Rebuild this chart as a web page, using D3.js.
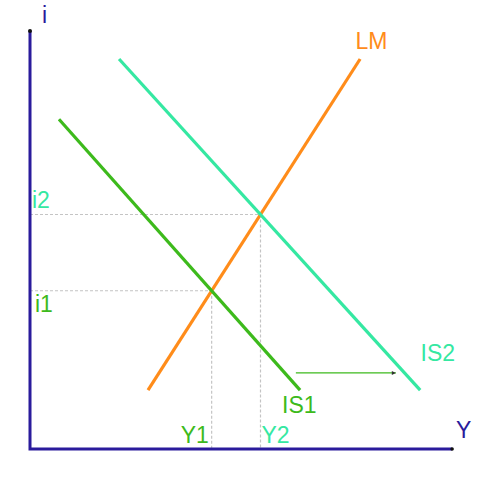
<!DOCTYPE html>
<meta charset="utf-8">
<style>
body { margin: 0; background: #fff; }
.label { font: 23px "Liberation Sans", Arial, sans-serif; }
</style>
<svg width="480" height="480"></svg>
<script src="https://d3js.org/d3.v7.min.js"></script>
<script>

// curves as pairs of end points, in chart units (0..100 on both axes)
var lmCurve = [[28.1, 14.1], [78.6, 93.3]],
    is1Curve = [[6.9, 78.9], [64.3, 14.1]],
    is2Curve = [[21.2, 93.3], [92.9, 14.1]];

var shiftArrow = [[63.3, 18.2], [87.1, 18.2]];

var curveNames = ["LM", "IS1", "IS2"],
    curveLabelPos = [[77.5, 95.8], [60, 8.5], [93, 21]];

var eqLabels = [["i1", "Y1"], ["i2", "Y2"]];

var svg = d3.select("svg");

var x = d3.scaleLinear().domain([0, 100]).range([30, 450]),
    y = d3.scaleLinear().domain([0, 100]).range([449, 31]);

var colors = {
  axis: "#2a1b9c",
  lm: "#ff8c1a",
  is1: "#3dba1c",
  is2: "#35e8a2"
};

var line = d3.line()
    .x(function(d) { return x(d[0]); })
    .y(function(d) { return y(d[1]); });

function intersect(a, b) {
  var m1 = (a[1][1] - a[0][1]) / (a[1][0] - a[0][0]),
      m2 = (b[1][1] - b[0][1]) / (b[1][0] - b[0][0]),
      c1 = a[0][1] - m1 * a[0][0],
      c2 = b[0][1] - m2 * b[0][0],
      xi = (c2 - c1) / (m1 - m2);
  return [xi, m1 * xi + c1];
}

var equilibria = [intersect(lmCurve, is1Curve), intersect(lmCurve, is2Curve)];
var eqColors = [colors.is1, colors.is2];

// dashed guides
var guides = svg.append("g")
    .attr("stroke", "#c4c4c4")
    .attr("stroke-width", 1.2)
    .attr("stroke-dasharray", "3,2")
    .attr("fill", "none");

equilibria.forEach(function(e) {
  guides.append("path").attr("d", line([[0, e[1]], e]));
  guides.append("path").attr("d", line([e, [e[0], 0]]));
});

// axes
svg.append("path")
    .attr("d", line([[0, 100], [0, 0], [100.5, 0]]))
    .attr("fill", "none")
    .attr("stroke", colors.axis)
    .attr("stroke-width", 3);

svg.append("circle").attr("cx", x(0)).attr("cy", y(100)).attr("r", 2).attr("fill", "#111");
svg.append("circle").attr("cx", x(100.5)).attr("cy", y(0)).attr("r", 1.8).attr("fill", "#111");

svg.append("text").attr("class", "label")
    .attr("x", 42).attr("y", 23)
    .attr("fill", colors.axis)
    .text("i");

svg.append("text").attr("class", "label")
    .attr("x", 456).attr("y", 438)
    .attr("fill", colors.axis)
    .text("Y");

// curves
[lmCurve, is1Curve, is2Curve].forEach(function(c, i) {
  svg.append("path")
      .attr("d", line(c))
      .attr("fill", "none")
      .attr("stroke", [colors.lm, colors.is1, colors.is2][i])
      .attr("stroke-width", 3.2);
});

curveNames.forEach(function(name, i) {
  svg.append("text").attr("class", "label")
      .attr("x", x(curveLabelPos[i][0]))
      .attr("y", y(curveLabelPos[i][1]))
      .attr("fill", [colors.lm, colors.is1, colors.is2][i])
      .text(name);
});

// equilibrium labels
equilibria.forEach(function(e, i) {
  svg.append("text").attr("class", "label")
      .attr("x", i === 0 ? 35 : 32)
      .attr("y", y(e[1]) + (i === 0 ? 21 : -7))
      .attr("fill", eqColors[i])
      .text(eqLabels[i][0]);
  svg.append("text").attr("class", "label")
      .attr("x", x(e[0]) + (i === 0 ? -31 : 1))
      .attr("y", 443)
      .attr("fill", eqColors[i])
      .text(eqLabels[i][1]);
});

// shift arrow
svg.append("path")
    .attr("d", line(shiftArrow))
    .attr("stroke", colors.is1)
    .attr("stroke-width", 1.3)
    .attr("fill", "none");

var tip = shiftArrow[1];
svg.append("path")
    .attr("d", "M" + (x(tip[0]) - 4) + "," + (y(tip[1]) - 2) + "L" + x(tip[0]) + "," + y(tip[1]) + "L" + (x(tip[0]) - 4) + "," + (y(tip[1]) + 2) + "Z")
    .attr("fill", "#333");

</script>
